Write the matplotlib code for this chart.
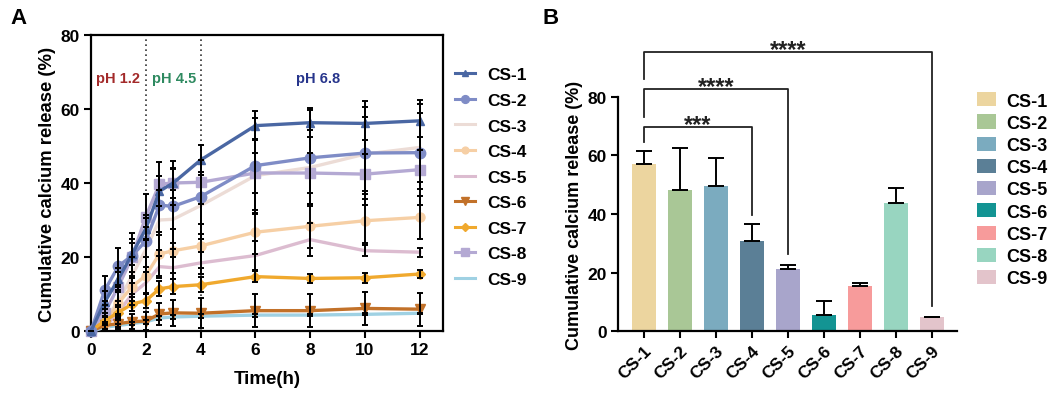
import matplotlib
matplotlib.use("Agg")
import matplotlib.pyplot as plt
from matplotlib.patches import Patch
from matplotlib.lines import Line2D

plt.rcParams['font.family'] = ['Liberation Sans', 'DejaVu Sans']
plt.rcParams['font.weight'] = 'bold'

# ---------------- data ----------------
time_h = [0, 0.5, 1, 1.5, 2, 2.5, 3, 4, 6, 8, 10, 12]
series_names = ["CS-1", "CS-2", "CS-3", "CS-4", "CS-5", "CS-6", "CS-7", "CS-8", "CS-9"]

cs1 = [0, 7.8, 14.0, 20.8, 27.6, 37.8, 40.0, 46.2, 55.5, 56.3, 56.1, 56.8]
cs2 = [0, 11.0, 17.5, 20.4, 24.3, 34.0, 33.7, 36.3, 44.7, 46.8, 48.1, 48.2]
cs3 = [0, 3.0, 8.0, 15.0, 22.0, 30.0, 30.2, 33.9, 42.0, 44.2, 47.8, 49.6]
cs4 = [0, 2.0, 7.5, 12.0, 15.0, 20.8, 21.7, 23.0, 26.7, 28.3, 29.8, 30.7]
cs5 = [0, 1.0, 5.0, 10.0, 13.0, 17.4, 17.1, 18.4, 20.4, 24.7, 21.7, 21.3]
cs6 = [0, 1.5, 2.0, 2.5, 2.7, 4.6, 4.9, 4.8, 5.5, 5.5, 6.1, 5.9]
cs7 = [0, 2.8, 5.0, 7.3, 8.2, 11.4, 12.0, 12.5, 14.7, 14.2, 14.4, 15.4]
cs8 = [0, 5.0, 12.0, 20.0, 30.9, 39.7, 40.0, 40.2, 42.7, 42.7, 42.4, 43.6]
cs9 = [0, 1.0, 1.5, 2.0, 2.5, 3.5, 3.8, 4.0, 4.3, 4.3, 4.5, 4.8]

err1 = [0, 3, 3, 3, 3, 4, 4, 4, 4, 4, 4.5, 4.5]
err2 = [0, 4, 5, 6, 7, 8, 10, 10, 13, 13, 14, 14.2]
err3 = [0, 3, 4, 5, 6, 8, 8, 9, 10, 10, 10, 9.3]
err4 = [0, 2, 3, 4, 5, 6, 6, 6, 6, 6, 6, 5.8]
err5 = [0, 1, 2, 3, 3, 3, 3, 3, 4, 4.5, 1.5, 1.2]
err6 = [0, 1, 1.5, 2, 2.5, 3, 3.5, 4, 4.5, 4.5, 4.5, 4.5]
err7 = [0, 1, 1.5, 2, 2, 2, 2, 2, 1.5, 1.2, 1.3, 1.1]
err8 = [0, 3, 4, 5, 6, 6, 6, 6, 5.5, 5.5, 5.5, 5.3]
err9 = [0, 0.5, 0.5, 0.5, 0.5, 0.5, 0.5, 0.5, 0.4, 0.3, 0.3, 0.2]

bar_values = [57.0, 48.3, 49.7, 30.7, 21.3, 5.7, 15.4, 43.7, 4.8]
bar_errors = [4.5, 14.2, 9.3, 5.8, 1.2, 4.5, 1.1, 5.3, 0.2]

# ---------------- styles ----------------
line_colors = ["#4a67a3", "#7f8cc6", "#ecdcd6", "#f6cfa5", "#dcbcd0",
               "#c27129", "#f0a92e", "#b4a9d3", "#9fd1e3"]
line_markers = ["^", "o", "None", "o", "None", "v", "D", "s", "None"]
marker_sizes = [6, 7.5, 5, 6.5, 5, 7, 5, 7.5, 5]
bar_colors = ["#ecd59f", "#a9c796", "#7babbf", "#5b7f96", "#a8a5cb",
              "#139493", "#f79b9b", "#98d5c0", "#e3c4cb"]

fig = plt.figure(figsize=(10.6, 4.02), dpi=100)

# ---------------- Panel A ----------------
axA = fig.add_axes([91/1060, 1-332/402, (443-91)/1060, (332-36)/402])
ys = [cs1, cs2, cs3, cs4, cs5, cs6, cs7, cs8, cs9]
es = [err1, err2, err3, err4, err5, err6, err7, err8, err9]
handles = []
order = [2, 4, 8, 3, 7, 5, 6, 1, 0]
for i in order:
    axA.plot(time_h, ys[i], color=line_colors[i], lw=2.4, marker=line_markers[i],
             ms=marker_sizes[i], zorder=3, clip_on=False)
for i in order:
    axA.errorbar(time_h, ys[i], yerr=es[i], fmt='none', ecolor='black',
                 elinewidth=1.4, capsize=2.5, capthick=1.4, zorder=4, clip_on=False)
for i in range(9):
    handles.append(Line2D([0], [0], color=line_colors[i], lw=2.2,
                          marker=line_markers[i], ms=marker_sizes[i]*0.75))

axA.axvline(2, color='#333333', ls=(0, (1, 2)), lw=1.2, zorder=1)
axA.axvline(4, color='#333333', ls=(0, (1, 2)), lw=1.2, zorder=1)
axA.text(1.0, 68.3, "pH 1.2", color="#a32a2a", fontsize=10.5, fontweight='bold', ha='center', va='center')
axA.text(3.05, 68.3, "pH 4.5", color="#2e8a60", fontsize=10.5, fontweight='bold', ha='center', va='center')
axA.text(8.3, 68.3, "pH 6.8", color="#27358c", fontsize=10.5, fontweight='bold', ha='center', va='center')

axA.set_xlim(0, 12.85)
axA.set_ylim(0, 80)
axA.set_xticks([0, 2, 4, 6, 8, 10, 12])
axA.set_yticks([0, 20, 40, 60, 80])
axA.tick_params(direction='out', length=5, width=1.5, labelsize=12.5, pad=3)
for lab in axA.get_xticklabels() + axA.get_yticklabels():
    lab.set_fontweight('bold')
for sp in axA.spines.values():
    sp.set_linewidth(1.6)
axA.set_xlabel("Time(h)", fontsize=13.5, fontweight='bold', labelpad=9)
axA.set_ylabel("Cumulative calcium release (%)", fontsize=13.3, fontweight='bold', labelpad=3)
axA.legend(handles, series_names, loc='upper left', bbox_to_anchor=(1.0, 0.932),
           frameon=False, handlelength=1.15, labelspacing=0.6,
           handletextpad=0.69, borderaxespad=0.3,
           prop={'weight': 'bold', 'size': 12.5})

# ---------------- Panel B ----------------
axB = fig.add_axes([618/1060, 1-332.3/402, (957-618)/1060, (332.3-97.7)/402])
xpos = list(range(len(series_names)))
axB.bar(xpos, bar_values, width=0.67, color=bar_colors, zorder=2)
axB.errorbar(xpos, bar_values, yerr=[[0]*9, bar_errors], fmt='none', ecolor='black',
             elinewidth=1.4, capsize=6, capthick=1.4, zorder=3)
axB.set_xlim(-0.72, 8.7)
axB.set_ylim(0, 80)
axB.set_yticks([0, 20, 40, 60, 80])
axB.set_xticks(xpos)
axB.set_xticklabels(series_names, rotation=45, ha='right', rotation_mode='anchor',
                    fontsize=13, fontweight='bold')
axB.tick_params(direction='out', length=5, width=1.5, labelsize=12.5, pad=3)
for lab in axB.get_yticklabels():
    lab.set_fontweight('bold')
axB.spines['top'].set_visible(False)
axB.spines['right'].set_visible(False)
axB.spines['left'].set_linewidth(1.6)
axB.spines['bottom'].set_linewidth(1.6)
axB.set_ylabel("Cumulative calcium release (%)", fontsize=13, fontweight='bold', labelpad=3)

brackets = [(0, 3, 64.6, 69.8, 39.7, "***"),
            (0, 4, 73.0, 82.6, 26.4, "****"),
            (0, 8, 86.0, 95.4, 8.6, "****")]
for x1, x2, yl, ytop, yr, label in brackets:
    axB.plot([x1, x1, x2, x2], [yl, ytop, ytop, yr], color='#222222', lw=1.3,
             clip_on=False, zorder=4)
    axB.text((x1 + x2) / 2, ytop - 1.5, label, ha='center', va='baseline',
             fontsize=17, fontweight='bold', color='#222222')

bh = [Patch(facecolor=c, edgecolor='none') for c in bar_colors]
axB.legend(bh, series_names, loc='upper left', bbox_to_anchor=(1.021, 1.073),
           frameon=False, handlelength=1.05, handleheight=0.83, labelspacing=0.27,
           handletextpad=0.6, borderaxespad=0.0, borderpad=0.7,
           prop={'weight': 'bold', 'size': 13})

fig.text(10/1060, 1-18/402, "A", fontsize=16, fontweight='bold', va='center')
fig.text(543/1060, 1-18/402, "B", fontsize=16, fontweight='bold', va='center')

fig.savefig("out.png", dpi=100)
